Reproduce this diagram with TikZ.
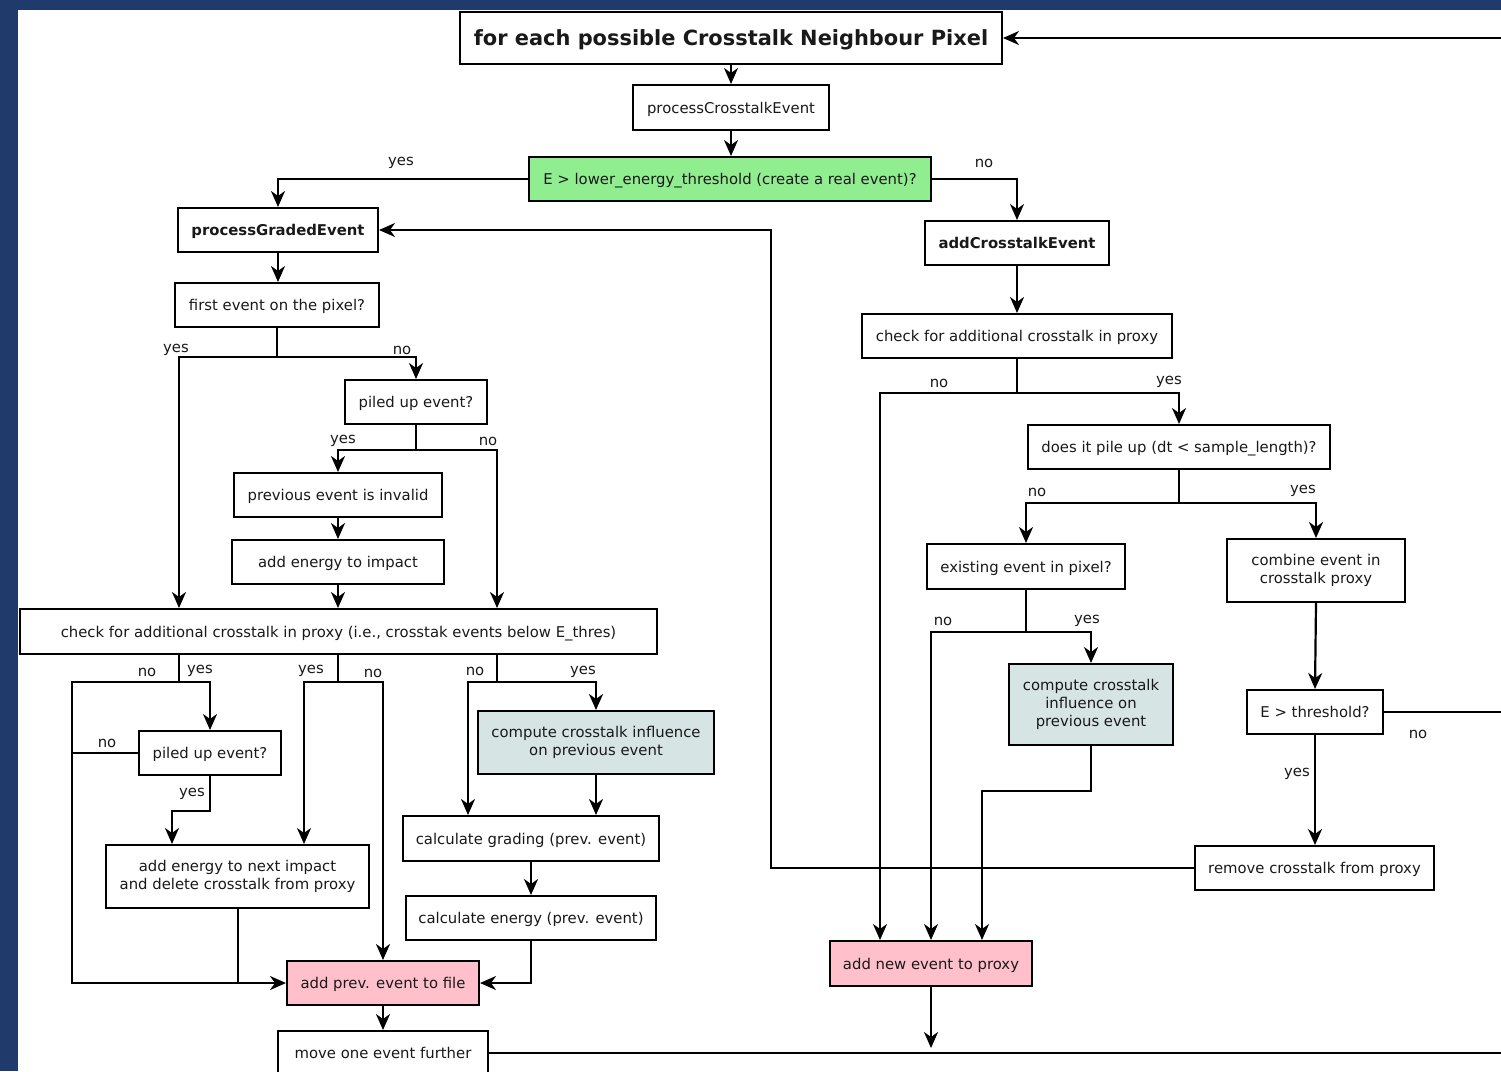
\documentclass[tikz,border=0pt]{standalone}
\usepackage{fontspec}
\setmainfont{DejaVu Sans}
\usetikzlibrary{arrows.meta,calc}
\definecolor{navy}{RGB}{31,58,107}
\definecolor{decgreen}{RGB}{144,238,144}
\definecolor{cyanbox}{RGB}{214,228,228}
\definecolor{pinkbox}{RGB}{255,192,203}
\begin{document}
\begin{tikzpicture}[x=1bp,y=-1bp,
  mbox/.style={draw=black, line width=2bp, inner sep=0pt, align=center,
    font=\fontsize{14.9}{18.4}\selectfont, text=black!90},
  box/.style={mbox, text depth=0pt},
  boldbox/.style={box, font=\fontsize{14.9}{18.4}\selectfont\bfseries},
  conn/.style={line width=2.2bp, draw=black},
  arr/.style={conn, -{Stealth[length=16bp,width=14bp,inset=5bp]}},
  lbl/.style={font=\fontsize{14.9}{18.4}\selectfont, text=black!90, inner sep=0pt}]
\useasboundingbox (0,0) rectangle (1501,1071);
\clip (0,0) rectangle (1501,1071);
\fill[navy] (0,0) rectangle (1501,1071);
\fill[white] (18,10) rectangle (1501,1071);

% nodes
\node[boldbox, font=\fontsize{21}{24}\selectfont\bfseries, minimum width=542bp, minimum height=52bp] (title) at (731,38) {for each possible Crosstalk Neighbour Pixel};
\node[box, minimum width=196bp, minimum height=45bp] (pce) at (731,107.5) {processCrosstalkEvent};
\node[box, fill=decgreen, minimum width=402bp, minimum height=44bp] (green) at (730,179) {E > lower\_energy\_threshold (create a real event)?};
\node[boldbox, minimum width=200bp, minimum height=44bp] (pge) at (278,230) {processGradedEvent};
\node[boldbox, minimum width=184bp, minimum height=44bp] (ace) at (1017,243) {addCrosstalkEvent};
\node[box, minimum width=204bp, minimum height=44bp] (first) at (277,305) {first event on the pixel?};
\node[box, minimum width=310bp, minimum height=44bp] (chkR) at (1017,336) {check for additional crosstalk in proxy};
\node[box, minimum width=142bp, minimum height=44bp] (pile1) at (416,402) {piled up event?};
\node[box, minimum width=208bp, minimum height=44bp] (invalid) at (338,495) {previous event is invalid};
\node[box, minimum width=212bp, minimum height=44bp] (addimp) at (338,562) {add energy to impact};
\node[box, minimum width=637bp, minimum height=45bp] (chkL) at (338.5,631.5) {check for additional crosstalk in proxy (i.e., crosstak events below E\_thres)};
\node[box, minimum width=302bp, minimum height=44bp] (pileR) at (1179,447) {does it pile up (dt < sample\_length)?};
\node[box, minimum width=198bp, minimum height=45bp] (exist) at (1026,566.5) {existing event in pixel?};
\node[mbox, minimum width=178bp, minimum height=63bp] (combine) at (1316,570.5) {combine event in\\crosstalk proxy};
\node[box, minimum width=142bp, minimum height=44bp] (pile2) at (210,753) {piled up event?};
\node[mbox, fill=cyanbox, minimum width=236bp, minimum height=63bp] (ccL) at (596,742.5) {compute crosstalk influence\\on previous event};
\node[mbox, fill=cyanbox, minimum width=164bp, minimum height=81bp] (ccR) at (1091,704.5) {compute crosstalk\\influence on\\previous event};
\node[box, minimum width=136bp, minimum height=44bp] (thr) at (1315,712) {E > threshold?};
\node[mbox, minimum width=263bp, minimum height=63bp] (addnext) at (237.5,876.5) {add energy to next impact\\and delete crosstalk from proxy};
\node[box, minimum width=256bp, minimum height=45bp] (grading) at (531,838.5) {calculate grading (prev. event)};
\node[box, minimum width=250bp, minimum height=44bp] (energy) at (531,918) {calculate energy (prev. event)};
\node[box, minimum width=239bp, minimum height=44bp] (remove) at (1314.5,868) {remove crosstalk from proxy};
\node[box, fill=pinkbox, minimum width=192bp, minimum height=44bp] (addprev) at (383,983) {add prev. event to file};
\node[box, fill=pinkbox, minimum width=202bp, minimum height=45bp] (addnew) at (931,963.5) {add new event to proxy};
\node[box, minimum width=210bp, minimum height=44bp] (move) at (383,1053) {move one event further};

% helper coordinates
\coordinate (k179) at (179,0);
\coordinate (k497) at (497,0);
\coordinate (k172) at (172,0);
\coordinate (k238) at (238,0);
\coordinate (k304) at (304,0);
\coordinate (k468) at (468,0);
\coordinate (k880) at (880,0);
\coordinate (k982) at (982,0);
\coordinate (k771) at (771,0);
\coordinate (c1) at (277,357);
\coordinate (c2) at (416,450);
\coordinate (j1) at (179,682);
\coordinate (j2) at (338,682);
\coordinate (j3) at (497,682);
\coordinate (c3) at (72,682);
\coordinate (c5) at (1017,393);
\coordinate (c6) at (1179,503);
\coordinate (c7) at (1026,632);
\coordinate (e1) at (1510,38);
\coordinate (e2) at (1510,712);
\coordinate (e3) at (1510,1053);
\coordinate (e4) at (931,1048);

% connectors
\draw[arr] (e1) -- (title.east);
\draw[arr] (title.south) -- (title.south |- pce.north);
\draw[arr] (pce.south) -- (pce.south |- green.north);
\draw[arr] (green.west) -| (pge.north);
\draw[arr] (green.east) -| (ace.north);
\draw[arr] (pge.south) -- (pge.south |- first.north);
\draw[arr] (ace.south) -- (ace.south |- chkR.north);

\draw[conn] (first.south) -- (c1);
\draw[arr] (c1) -| (k179 |- chkL.north);
\draw[arr] (c1) -| (pile1.north);
\draw[conn] (pile1.south) -- (c2);
\draw[arr] (c2) -| (invalid.north);
\draw[arr] (c2) -| (k497 |- chkL.north);
\draw[arr] (invalid.south) -- (invalid.south |- addimp.north);
\draw[arr] (addimp.south) -- (addimp.south |- chkL.north);

\draw[conn] (j1 |- chkL.south) -- (j1);
\draw[arr] (j1) -| (pile2.north);
\draw[arr] (j1) -- (c3) |- (addprev.west);
\draw[conn] (pile2.west) -- (pile2.west -| c3);
\draw[arr] (pile2.south) -- ++(0,35) -| (k172 |- addnext.north);
\draw[conn] (k238 |- addnext.south) -- (k238 |- addprev.west);
\draw[conn] (j2 |- chkL.south) -- (j2);
\draw[arr] (j2) -| (k304 |- addnext.north);
\draw[arr] (j2) -| (addprev.north);
\draw[conn] (j3 |- chkL.south) -- (j3);
\draw[arr] (j3) -| (k468 |- grading.north);
\draw[arr] (j3) -| (ccL.north);
\draw[arr] (ccL.south) -- (ccL.south |- grading.north);
\draw[arr] (grading.south) -- (grading.south |- energy.north);
\draw[arr] (energy.south) |- (addprev.east);
\draw[arr] (addprev.south) -- (addprev.south |- move.north);
\draw[conn] (move.east) -- (e3);

\draw[conn] (chkR.south) -- (c5);
\draw[arr] (c5) -| (k880 |- addnew.north);
\draw[arr] (c5) -| (pileR.north);
\draw[conn] (pileR.south) -- (c6);
\draw[arr] (c6) -| (exist.north);
\draw[arr] (c6) -| (combine.north);
\draw[conn] (exist.south) -- (c7);
\draw[arr] (c7) -| (addnew.north);
\draw[arr] (c7) -| (ccR.north);
\draw[arr] (ccR.south) -- ++(0,45) -| (k982 |- addnew.north);
\draw[arr] (combine.south) -- (thr.north);
\draw[arr] (thr.south) -- (thr.south |- remove.north);
\draw[conn] (thr.east) -- (e2);
\draw[arr] (remove.west) -- (k771 |- remove.west) |- (pge.east);
\draw[arr] (addnew.south) -- (e4);

% labels
\node[lbl] (l1) at (401,163) {yes};
\node[lbl] (l2) at (984,163) {no};
\node[lbl] (l3) at (176,350) {yes};
\node[lbl] (l4) at (402,350) {no};
\node[lbl] (l5) at (343,441) {yes};
\node[lbl] (l6) at (488,441) {no};
\node[lbl] (l7) at (147,672) {no};
\node[lbl] (l8) at (200,671) {yes};
\node[lbl] (l9) at (311,671) {yes};
\node[lbl] (l10) at (373,673) {no};
\node[lbl] (l11) at (475,671) {no};
\node[lbl] (l12) at (583,672) {yes};
\node[lbl] (l13) at (107,743) {no};
\node[lbl] (l14) at (192,794) {yes};
\node[lbl] (l15) at (939,383) {no};
\node[lbl] (l16) at (1169,382) {yes};
\node[lbl] (l17) at (1037,492) {no};
\node[lbl] (l18) at (1303,491) {yes};
\node[lbl] (l19) at (943,621) {no};
\node[lbl] (l20) at (1087,621) {yes};
\node[lbl] (l21) at (1418,734) {no};
\node[lbl] (l22) at (1297,774) {yes};
\end{tikzpicture}
\end{document}
